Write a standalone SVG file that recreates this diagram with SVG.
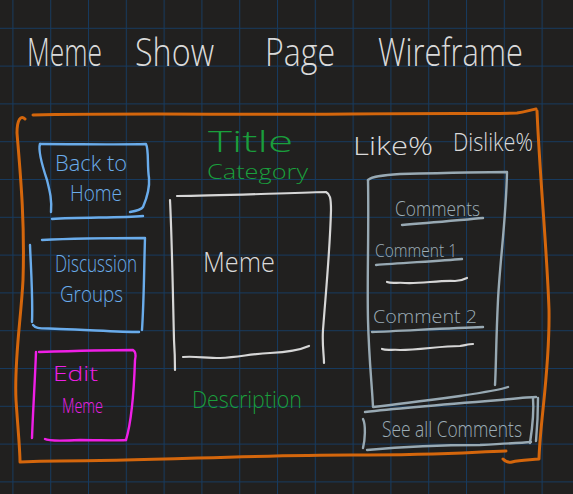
<svg xmlns="http://www.w3.org/2000/svg" width="573" height="494" viewBox="0 0 573 494">
  <defs>
    <pattern id="grid" patternUnits="userSpaceOnUse" x="12.4" y="27.8" width="37.8" height="37.8">
      <path d="M0,0.5 H37.8 M0.5,0 V37.8" fill="none" stroke="#173a5e" stroke-width="1"/>
    </pattern>
    <style>
      .ink { fill: none; stroke-linecap: round; stroke-linejoin: round; }
      .frame { stroke: #d4660c; stroke-width: 3; }
      .blue { stroke: #6aaceb; stroke-width: 2.4; }
      .mag { stroke: #ef1fe6; stroke-width: 2.4; }
      .chalk { stroke: #d6d6d6; stroke-width: 2.2; }
      .slate { stroke: #98a9b3; stroke-width: 2.4; }
      text { font-family: "Open Sans", "Liberation Sans", sans-serif; font-weight: 300; }
      .t-white { fill: #dadada; }
      .t-blue { fill: #6aaceb; }
      .t-mag { fill: #ef1fe6; }
      .t-green { fill: #1a9e3c; }
      .t-slate { fill: #9cadb7; }
    </style>
  </defs>

  <!-- canvas and grid paper -->
  <rect width="573" height="494" fill="#21201f"/>
  <rect width="573" height="494" fill="url(#grid)"/>

  <!-- page heading -->
  <g id="heading">
    <text class="t-white" x="27" y="66" font-size="38" textLength="75" lengthAdjust="spacingAndGlyphs">Meme</text>
    <text class="t-white" x="135" y="66" font-size="38" textLength="79" lengthAdjust="spacingAndGlyphs">Show</text>
    <text class="t-white" x="265" y="66" font-size="38" textLength="70" lengthAdjust="spacingAndGlyphs">Page</text>
    <text class="t-white" x="378" y="66" font-size="38" textLength="145" lengthAdjust="spacingAndGlyphs">Wireframe</text>
  </g>

  <!-- outer page frame -->
  <g id="page-frame">
    <path class="ink frame" d="M33,115 C120,113 250,115 350,114 S480,114 517,113 C525,112 530,110 536,109"/>
    <path class="ink frame" d="M537,111 C540,180 547,250 549,310 C550,370 540,420 539,459 C530,460 520,460 512,462 C508,463 505,461 503,459"/>
    <path class="ink frame" d="M25,119 C21,115 17,119 17,133 C20,170 25,220 23,280 C21,320 14,360 16,400 C18,430 20,450 20,462 C40,461 50,461 60,461 C150,461 250,455 350,455 S470,452 506,451"/>
  </g>

  <!-- navigation buttons -->
  <g id="back-to-home">
    <path class="ink blue" d="M40,144 C80,144 120,145 146,144 C149,150 147,165 149,178 C150,190 146,200 143,207 C141,210 136,211 130,212"/>
    <path class="ink blue" d="M40,144 C38,150 42,165 47,180 C50,192 52,200 51,212"/>
    <path class="ink blue" d="M52,219 C80,217 120,218 143,216"/>
    <text class="t-blue" x="55" y="171" font-size="22" textLength="72" lengthAdjust="spacingAndGlyphs">Back to</text>
    <text class="t-blue" x="70" y="201" font-size="22" textLength="52" lengthAdjust="spacingAndGlyphs">Home</text>
  </g>

  <g id="discussion-groups">
    <path class="ink blue" d="M42,240 C80,238 120,238 145,238 C144,270 144,300 142,330"/>
    <path class="ink blue" d="M30,245 C31,270 33,300 32,322"/>
    <path class="ink blue" d="M33,325 C36,329 40,328 60,329 C90,330 120,332 139,332"/>
    <text class="t-blue" x="55" y="272" font-size="24" textLength="82" lengthAdjust="spacingAndGlyphs">Discussion</text>
    <text class="t-blue" x="60" y="302" font-size="22" textLength="63" lengthAdjust="spacingAndGlyphs">Groups</text>
  </g>

  <g id="edit-meme">
    <path class="ink mag" d="M39,352 C70,351 110,350 133,350 C136,352 136,356 135,360 C134,390 132,420 126,440"/>
    <path class="ink mag" d="M45,439 C48,441 60,441 80,440 C100,440 115,441 126,440"/>
    <path class="ink mag" d="M36,352 C35,380 33,410 32,438"/>
    <text class="t-mag" x="53" y="381" font-size="21" textLength="45" lengthAdjust="spacingAndGlyphs">Edit</text>
    <text class="t-mag" x="62" y="413" font-size="20" textLength="41" lengthAdjust="spacingAndGlyphs">Meme</text>
  </g>

  <!-- meme content -->
  <g id="meme-title">
    <text class="t-green" x="208" y="152" font-size="30" textLength="85" lengthAdjust="spacingAndGlyphs">Title</text>
    <text class="t-green" x="207" y="179" font-size="20" textLength="101" lengthAdjust="spacingAndGlyphs">Category</text>
  </g>

  <g id="meme-image">
    <path class="ink chalk" d="M177,196 C220,196 280,193 326,192 C330,194 331,198 331,210 C330,250 326,290 323,330 C322,345 324,355 324,363"/>
    <path class="ink chalk" d="M170,200 C172,240 173,300 174,340 C175,355 175,365 175,370"/>
    <path class="ink chalk" d="M183,357 C195,356 205,358 220,358 C240,357 250,354 270,353 C290,352 300,350 309,346"/>
    <text class="t-white" x="203" y="272" font-size="28" textLength="72" lengthAdjust="spacingAndGlyphs">Meme</text>
  </g>

  <g id="meme-description">
    <text class="t-green" x="192" y="408" font-size="24" textLength="110" lengthAdjust="spacingAndGlyphs">Description</text>
  </g>

  <g id="ratings">
    <text class="t-white" x="353" y="155" font-size="26" textLength="80" lengthAdjust="spacingAndGlyphs">Like%</text>
    <text class="t-white" x="453" y="151" font-size="26" textLength="80" lengthAdjust="spacingAndGlyphs">Dislike%</text>
  </g>

  <!-- comments sidebar -->
  <g id="comments-panel">
    <path class="ink slate" d="M368,180 C372,176 385,175 400,174 C440,173 480,172 507,172 C506,220 500,260 498,300 C496,340 496,370 495,385"/>
    <path class="ink slate" d="M368,180 C369,230 367,280 368,320 C369,360 372,385 373,407 C400,404 430,400 460,396 C480,393 500,390 508,387"/>
    <text class="t-slate" x="395" y="216" font-size="20" textLength="85" lengthAdjust="spacingAndGlyphs">Comments</text>
    <path class="ink slate" d="M402,225 C430,223 460,220 483,218"/>

    <text class="t-slate" x="375" y="257" font-size="18" textLength="82" lengthAdjust="spacingAndGlyphs">Comment 1</text>
    <path class="ink slate" d="M376,265 C400,263 440,261 462,259"/>
    <path class="ink chalk" d="M387,282 C392,284 398,282 405,283 C420,284 440,280 455,281 C460,281 465,279 467,278"/>

    <text class="t-slate" x="373" y="323" font-size="19" textLength="104" lengthAdjust="spacingAndGlyphs">Comment 2</text>
    <path class="ink slate" d="M372,332 C400,331 450,328 483,327"/>
    <path class="ink chalk" d="M382,349 C387,351 393,349 400,350 C420,350 440,346 460,346 C466,345 470,344 473,344"/>
  </g>

  <g id="see-all-comments">
    <path class="ink slate" d="M365,412 C400,408 450,404 500,400 C520,398 530,397 536,397"/>
    <path class="ink slate" d="M533,398 C534,410 532,430 530,443"/>
    <path class="ink slate" d="M538,398 C538,415 537,430 536,441"/>
    <path class="ink slate" d="M367,450 C400,447 450,445 480,445 C500,444 520,443 531,442"/>
    <path class="ink slate" d="M363,419 C366,425 365,440 363,448"/>
    <text class="t-slate" x="382" y="437" font-size="22" textLength="140" lengthAdjust="spacingAndGlyphs">See all Comments</text>
  </g>
</svg>
